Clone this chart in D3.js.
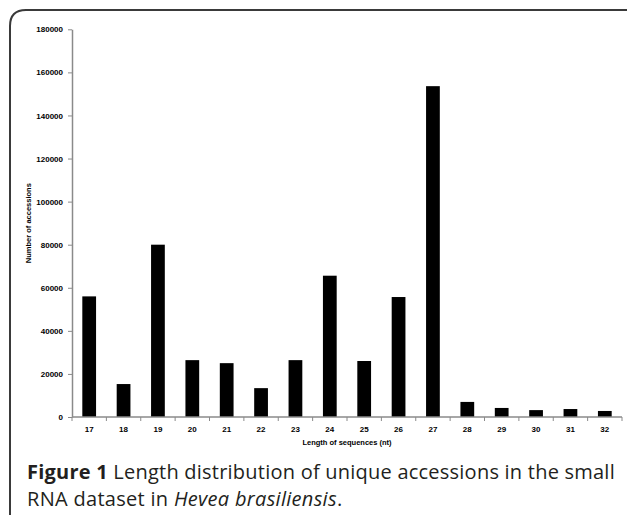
<!DOCTYPE html>
<html>
<head>
<meta charset="utf-8">
<script src="https://cdn.jsdelivr.net/npm/d3@7"></script>
<style>
  html, body { margin: 0; padding: 0; background: #fff; }
  svg { display: block; }
</style>
</head>
<body>
<svg id="chart" width="627" height="515"></svg>
<script>
// Sequence lengths (nt) and number of unique accessions for each length
const lengths = ["17","18","19","20","21","22","23","24","25","26","27","28","29","30","31","32"];
const accessions = [56000, 15300, 80000, 26400, 25000, 13400, 26400, 65600, 26000, 55700, 153600, 7000, 4200, 3200, 3700, 2800];
const yTicks = [0, 20000, 40000, 60000, 80000, 100000, 120000, 140000, 160000, 180000];

const svg = d3.select("#chart");

// Rounded figure frame (top and left edges)
svg.append("path")
  .attr("d", "M10,515 L10,26 Q10,10 26,10 L627,10")
  .attr("fill", "none")
  .attr("stroke", "#3a3a3a")
  .attr("stroke-width", 2);

const plot = { left: 72, right: 622, top: 29.3, bottom: 417 };

const x = d3.scaleBand()
  .domain(lengths)
  .range([plot.left, plot.right])
  .paddingInner(0.6)
  .paddingOuter(0.3);

const y = d3.scaleLinear()
  .domain([0, 180000])
  .range([plot.bottom, plot.top]);

const tickFont = "'Liberation Sans', Arial, sans-serif";

// Bars
svg.append("g")
  .selectAll("rect")
  .data(lengths)
  .join("rect")
  .attr("x", d => x(d))
  .attr("width", x.bandwidth())
  .attr("y", (d, i) => y(accessions[i]))
  .attr("height", (d, i) => plot.bottom - y(accessions[i]))
  .attr("fill", "#000");

// Y axis
const yAxis = svg.append("g")
  .attr("transform", `translate(${plot.left},0)`)
  .call(d3.axisLeft(y).tickValues(yTicks).tickFormat(d3.format("d"))
    .tickSize(4).tickPadding(5).tickSizeOuter(0));
yAxis.select(".domain").attr("stroke", "#8a8a8a").attr("stroke-width", 1.5);
yAxis.selectAll(".tick line").attr("stroke", "#8a8a8a").attr("stroke-width", 1);
yAxis.selectAll(".tick text")
  .attr("font-family", tickFont)
  .attr("font-weight", "bold")
  .attr("font-size", 8)
  .attr("fill", "#000");

// X axis: category labels centred, tick marks between categories
const xAxis = svg.append("g")
  .attr("transform", `translate(0,${plot.bottom})`);
xAxis.append("line")
  .attr("x1", plot.left).attr("x2", plot.right)
  .attr("stroke", "#8a8a8a").attr("stroke-width", 1.5);
const boundaries = d3.range(lengths.length + 1).map(i => plot.left + i * (plot.right - plot.left) / lengths.length);
xAxis.selectAll("line.tk")
  .data(boundaries)
  .join("line")
  .attr("class", "tk")
  .attr("x1", d => d).attr("x2", d => d)
  .attr("y1", 0).attr("y2", 4)
  .attr("stroke", "#8a8a8a").attr("stroke-width", 1);
xAxis.selectAll("text")
  .data(lengths)
  .join("text")
  .attr("x", d => x(d) + x.bandwidth() / 2)
  .attr("y", 14.5)
  .attr("text-anchor", "middle")
  .attr("font-family", tickFont)
  .attr("font-weight", "bold")
  .attr("font-size", 8)
  .attr("fill", "#000")
  .text(d => d);

// Axis titles
svg.append("text")
  .attr("x", (plot.left + plot.right) / 2)
  .attr("y", 444.5)
  .attr("text-anchor", "middle")
  .attr("font-family", tickFont)
  .attr("font-weight", "bold")
  .attr("font-size", 7.5)
  .attr("fill", "#000")
  .text("Length of sequences (nt)");

svg.append("text")
  .attr("transform", `translate(31,${(plot.top + plot.bottom) / 2}) rotate(-90)`)
  .attr("text-anchor", "middle")
  .attr("font-family", tickFont)
  .attr("font-weight", "bold")
  .attr("font-size", 7.5)
  .attr("fill", "#000")
  .text("Number of accessions");

// Caption (first line justified to the figure width)
const capFont = "'Open Sans', 'Noto Sans', sans-serif";
const cap1 = svg.append("text")
  .attr("x", 27).attr("y", 479)
  .attr("font-family", capFont)
  .attr("font-size", 20)
  .attr("letter-spacing", 0.3)
  .attr("textLength", 588)
  .attr("lengthAdjust", "spacing")
  .attr("fill", "#231f20");
cap1.append("tspan").attr("font-weight", "bold").text("Figure 1");
cap1.append("tspan").text(" Length distribution of unique accessions in the small");

const cap2 = svg.append("text")
  .attr("x", 27).attr("y", 506)
  .attr("font-family", capFont)
  .attr("font-size", 20)
  .attr("letter-spacing", 0.3)
  .attr("fill", "#231f20");
cap2.append("tspan").text("RNA dataset in ");
cap2.append("tspan").attr("font-style", "italic").text("Hevea brasiliensis");
cap2.append("tspan").text(".");
</script>
</body>
</html>
